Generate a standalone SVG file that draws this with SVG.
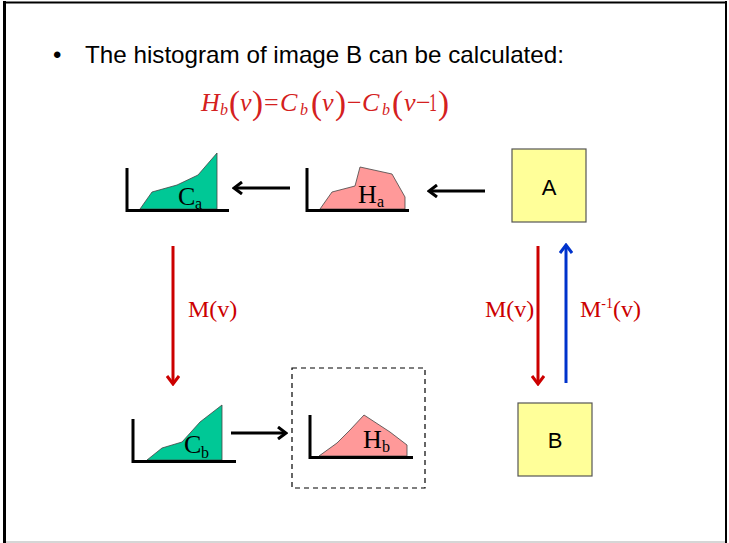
<svg xmlns="http://www.w3.org/2000/svg" width="729" height="543" viewBox="0 0 729 543">
<defs>
<style>
.frame{stroke:#000;fill:none}
.axis{stroke:#000;stroke-width:3;fill:none}
.cum{fill:#00C896;stroke:#444;stroke-width:0.8}
.hist{fill:#FF9999;stroke:#444;stroke-width:0.8}
.box{fill:#FFFF99;stroke:#555;stroke-width:1.2}
.lbl{font-family:"Liberation Serif","Times New Roman",serif;font-size:26px;fill:#000}
.sub{font-size:16px}
.sans{font-family:"Liberation Sans",Arial,sans-serif;fill:#000}
.red{fill:#CC0000;font-size:24px}
.math{font-family:"Liberation Serif","Times New Roman",serif;font-style:italic;fill:#D42020}
.blk{stroke:#000;stroke-width:3;fill:none}
.rarr{stroke:#CC0000;stroke-width:3;fill:none}
.barr{stroke:#0033CC;stroke-width:3;fill:none}
</style>
<marker id="hk" markerUnits="userSpaceOnUse" viewBox="0 0 12 14" refX="10" refY="7" markerWidth="12" markerHeight="14" orient="auto"><path d="M2,1 L10,7 L2,13" fill="none" stroke="#000" stroke-width="3"/></marker>
<marker id="hr" markerUnits="userSpaceOnUse" viewBox="0 0 12 14" refX="10" refY="7" markerWidth="12" markerHeight="14" orient="auto"><path d="M2,1 L10,7 L2,13" fill="none" stroke="#CC0000" stroke-width="3"/></marker>
<marker id="hb" markerUnits="userSpaceOnUse" viewBox="0 0 12 14" refX="10" refY="7" markerWidth="12" markerHeight="14" orient="auto"><path d="M2,1 L10,7 L2,13" fill="none" stroke="#0033CC" stroke-width="3"/></marker>
</defs>
<rect width="729" height="543" fill="#fff"/>
<g id="frame">
<line x1="4.5" y1="1" x2="4.5" y2="543" class="frame" stroke-width="3"/>
<line x1="3" y1="2.5" x2="727" y2="2.5" class="frame" stroke-width="2"/>
<line x1="726" y1="1" x2="726" y2="543" class="frame" stroke-width="2"/>
<line x1="6" y1="542" x2="725" y2="542" stroke="#c8c8c8" stroke-width="1.5"/>
</g>
<g id="title">
<text x="53" y="63" class="sans" font-size="24">•</text>
<text x="85" y="63" class="sans" font-size="24" textLength="479" lengthAdjust="spacingAndGlyphs">The histogram of image B can be calculated:</text>
</g>
<g id="formula" class="math">
<text y="111" font-size="26"><tspan x="201">H</tspan><tspan x="220" y="115" font-size="16">b</tspan></text>
<text y="114" font-size="33" font-style="normal"><tspan x="229">(</tspan><tspan x="252">)</tspan><tspan x="311">(</tspan><tspan x="335">)</tspan><tspan x="392">(</tspan><tspan x="438">)</tspan></text>
<text y="111" font-size="26"><tspan x="240">v</tspan></text>
<text y="111" font-size="26" font-style="normal"><tspan x="264">=</tspan></text>
<text y="111" font-size="26"><tspan x="280">C</tspan><tspan x="300" y="115" font-size="16">b</tspan></text>
<text y="111" font-size="26"><tspan x="322">v</tspan></text>
<text y="111" font-size="26" font-style="normal"><tspan x="347">−</tspan></text>
<text y="111" font-size="26"><tspan x="362">C</tspan><tspan x="382" y="115" font-size="16">b</tspan></text>
<text y="111" font-size="26"><tspan x="404">v</tspan></text>
<text y="111" font-size="26" font-style="normal"><tspan x="416">−</tspan><tspan x="429" textLength="8" lengthAdjust="spacingAndGlyphs">1</tspan></text>
</g>
<g id="Ca">
<polygon class="cum" points="140,209 152,192 177,185 198,175 217,153 217,209"/>
<path class="axis" d="M127,168 V210.5 H229"/>
<text class="lbl" x="178" y="205">C<tspan class="sub" x="195" y="209">a</tspan></text>
</g>
<g id="Ha">
<polygon class="hist" points="320,209 332,192 355,186 360,167 392,174 405,197 405,209"/>
<path class="axis" d="M307,168 V210.5 H409"/>
<text class="lbl" x="358" y="203">H<tspan class="sub" x="377" y="207">a</tspan></text>
</g>
<g id="A">
<rect class="box" x="512" y="149" width="74" height="73"/>
<text class="sans" x="549" y="195" font-size="22" text-anchor="middle">A</text>
</g>
<g id="Cb">
<polygon class="cum" points="147,460 162,448 182,442 200,422 222,405 222,460"/>
<path class="axis" d="M133,419 V461.5 H236"/>
<text class="lbl" x="184" y="453">C<tspan class="sub" x="201" y="458">b</tspan></text>
</g>
<g id="Hb">
<rect x="292" y="368" width="133" height="120" fill="none" stroke="#000" stroke-width="1.2" stroke-dasharray="5,4"/>
<polygon class="hist" points="319,456 337,443 350,430 364,415 390,432 407,445 407,456"/>
<path class="axis" d="M310,415 V457.5 H413"/>
<text class="lbl" x="363" y="448">H<tspan class="sub" x="382" y="452">b</tspan></text>
</g>
<g id="B">
<rect class="box" x="518" y="403" width="74" height="73"/>
<text class="sans" x="555" y="448" font-size="22" text-anchor="middle">B</text>
</g>
<g id="connectors">
<line class="blk" x1="290" y1="188" x2="234" y2="188" marker-end="url(#hk)"/>
<line class="blk" x1="485" y1="191" x2="429" y2="191" marker-end="url(#hk)"/>
<line class="blk" x1="231" y1="433" x2="286" y2="433" marker-end="url(#hk)"/>
<line class="rarr" x1="173" y1="246" x2="173" y2="384" marker-end="url(#hr)"/>
<line class="rarr" x1="538" y1="246" x2="538" y2="384" marker-end="url(#hr)"/>
<line class="barr" x1="566" y1="383" x2="566" y2="245" marker-end="url(#hb)"/>
<text class="lbl red" x="188" y="317">M(v)</text>
<text class="lbl red" x="485" y="317">M(v)</text>
<text class="lbl red" x="580" y="317">M<tspan font-size="14" dy="-9">-1</tspan><tspan dy="9">(v)</tspan></text>
</g>
</svg>
